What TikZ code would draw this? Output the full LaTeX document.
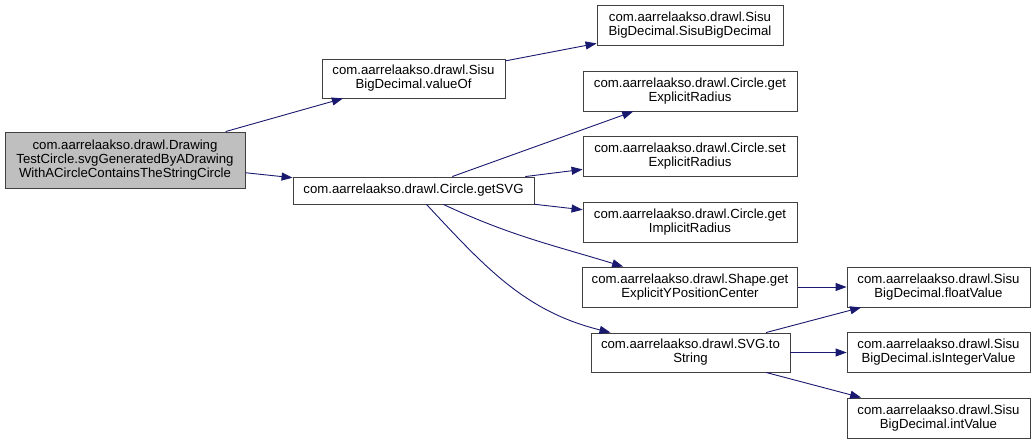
\documentclass[tikz,border=0pt]{standalone}
\usepackage{fontspec}
\setmainfont{Liberation Sans}
\usetikzlibrary{arrows.meta, positioning}
\definecolor{edgeblue}{RGB}{25,25,112}
\definecolor{rootgray}{RGB}{191,191,191}
\definecolor{boxline}{RGB}{64,64,64}

\tikzset{
    fn/.style={draw=boxline, line width=0.9pt, fill=white, align=center,
        font=\fontsize{13.2}{14}\selectfont, inner sep=2pt,
        minimum height=40pt},
    rootfn/.style={fn, fill=rootgray, minimum height=56pt},
    call/.style={draw=edgeblue, line width=0.9pt,
        -{Triangle[length=11pt,width=8pt]}}
}

\begin{document}
\begin{tikzpicture}[x=1pt,y=1pt]
        \useasboundingbox[fill=white] (0,0) rectangle (1035,-444);

        % caller
        \node[rootfn, minimum width=240pt] (root) at (125,-160)
            {com.aarrelaakso.drawl.Drawing\\TestCircle.svgGeneratedByADrawing\\WithACircleContainsTheStringCircle};

        % first level
        \node[fn, minimum width=183pt, minimum height=39pt] (valueof) at (413.5,-78.5)
            {com.aarrelaakso.drawl.Sisu\\BigDecimal.valueOf};
        \node[fn, minimum width=241pt, minimum height=27pt] (getsvg) at (413.5,-190.5)
            {com.aarrelaakso.drawl.Circle.getSVG};

        % second level
        \node[fn, minimum width=186pt] (ctor) at (690,-25.5)
            {com.aarrelaakso.drawl.Sisu\\BigDecimal.SisuBigDecimal};
        \node[fn, minimum width=214pt] (getexpl) at (690,-91)
            {com.aarrelaakso.drawl.Circle.get\\ExplicitRadius};
        \node[fn, minimum width=214pt] (setexpl) at (690,-156)
            {com.aarrelaakso.drawl.Circle.set\\ExplicitRadius};
        \node[fn, minimum width=214pt] (getimpl) at (690,-222)
            {com.aarrelaakso.drawl.Circle.get\\ImplicitRadius};
        \node[fn, minimum width=215pt] (shapey) at (690,-287)
            {com.aarrelaakso.drawl.Shape.get\\ExplicitYPositionCenter};
        \node[fn, minimum width=199pt, minimum height=39pt] (tostring) at (690.5,-352.5)
            {com.aarrelaakso.drawl.SVG.to\\String};

        % third level
        \node[fn, minimum width=183pt] (floatv) at (938.5,-287)
            {com.aarrelaakso.drawl.Sisu\\BigDecimal.floatValue};
        \node[fn, minimum width=183pt] (isintv) at (938.5,-352.5)
            {com.aarrelaakso.drawl.Sisu\\BigDecimal.isIntegerValue};
        \node[fn, minimum width=183pt] (intv) at (938.5,-418)
            {com.aarrelaakso.drawl.Sisu\\BigDecimal.intValue};

        % calls
        \draw[call] (root) -- (valueof);
        \draw[call] (root) -- (getsvg);
        \draw[call] (valueof) -- (ctor);
        \draw[call] (getsvg) -- (getexpl);
        \draw[call] (getsvg) -- (setexpl);
        \draw[call] (getsvg) -- (getimpl);
        \draw[call] (getsvg) to[out=-25, in=163] (shapey);
        \draw[call] (getsvg) to[out=-47, in=166] (tostring);
        \draw[call] (shapey) -- (floatv);
        \draw[call] (tostring) -- (floatv);
        \draw[call] (tostring) -- (isintv);
        \draw[call] (tostring) -- (intv);
    \end{tikzpicture}
\end{document}
